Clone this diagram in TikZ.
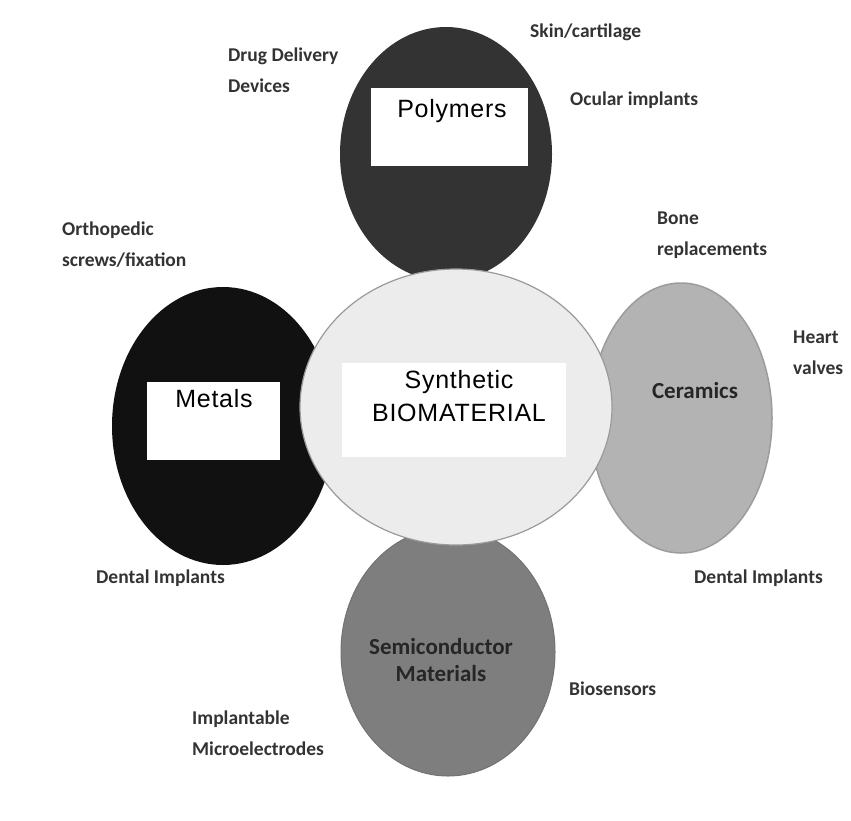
\documentclass[tikz,border=0pt]{standalone}
\usepackage{fontspec}
\usetikzlibrary{shapes.geometric}
\newfontfamily\labfont{Carlito}
\newfontfamily\boxfont[LetterSpace=3]{Liberation Sans}
\definecolor{polyc}{HTML}{333333}
\definecolor{metc}{HTML}{111111}
\definecolor{cenc}{HTML}{ECECEC}
\definecolor{cenb}{HTML}{9A9A9A}
\definecolor{cerc}{HTML}{B3B3B3}
\definecolor{cerb}{HTML}{9C9C9C}
\definecolor{semc}{HTML}{7E7E7E}
\definecolor{semb}{HTML}{727272}
\definecolor{labc}{HTML}{333333}
\tikzset{
  blob/.style={ellipse, inner sep=0pt},
  lab/.style={anchor=west, align=left, inner sep=0pt, text=labc,
    font=\labfont\bfseries\fontsize{19.5}{31}\selectfont},
  wbox/.style={fill=white, draw=none, inner sep=0pt},
  boxtxt/.style={inner sep=0pt, text=black, align=center,
    font=\boxfont\fontsize{25}{33}\selectfont},
  intxt/.style={inner sep=0pt, text=black!85, align=center,
    font=\labfont\bfseries\fontsize{23}{27}\selectfont}
}
\begin{document}
\begin{tikzpicture}[x=1pt,y=-1pt]
\useasboundingbox (0,0) rectangle (851,820);
\fill[white] (0,0) rectangle (851,820);
% outer ellipses
\node[blob, fill=polyc, minimum width=212pt, minimum height=254pt] (poly) at (446,154) {};
\node[blob, fill=metc, minimum width=222pt, minimum height=278pt] (met) at (223,426) {};
\node[blob, fill=cerc, draw=cerb, line width=1.5pt, minimum width=182pt, minimum height=270pt] (cer) at (681,418) {};
\node[blob, fill=semc, draw=semb, line width=1pt, minimum width=214pt, minimum height=248pt] (sem) at (448,652) {};
% centre
\node[blob, fill=cenc, draw=cenb, line width=1.2pt, minimum width=312pt, minimum height=276pt] (cen) at (456,407) {};
% white boxes
\node[wbox, minimum width=157pt, minimum height=78pt] (pbox) at (449,127) {};
\node[wbox, minimum width=133pt, minimum height=78pt] (mbox) at (213,421) {};
\node[wbox, minimum width=224pt, minimum height=94pt] (cbox) at (454,410) {};
% box texts
\node[boxtxt] (ptxt) at (452,111) {Polymers};
\node[boxtxt] (mtxt) at (214,399) {Metals};
\node[boxtxt] (ctxt) at (459,396) {Synthetic\\BIOMATERIAL};
\node[intxt] (certxt) at (695,391) {Ceramics};
\node[intxt] (semtxt) at (441,660) {Semiconductor\\Materials};
% labels
\node[lab] (l1) at (228,70) {Drug Delivery\\Devices};
\node[lab] (l2) at (530,32) {Skin/cartilage};
\node[lab] (l3) at (570,100) {Ocular implants};
\node[lab] (l4) at (657,235) {Bone\\replacements};
\node[lab] (l5) at (793,353) {Heart\\valves};
\node[lab] (l6) at (62,245) {Orthopedic\\screws/fixation};
\node[lab] (l7) at (96,578) {Dental Implants};
\node[lab] (l8) at (694,578) {Dental Implants};
\node[lab] (l9) at (569,689) {Biosensors};
\node[lab] (l10) at (192,733) {Implantable\\Microelectrodes};
\end{tikzpicture}
\end{document}
